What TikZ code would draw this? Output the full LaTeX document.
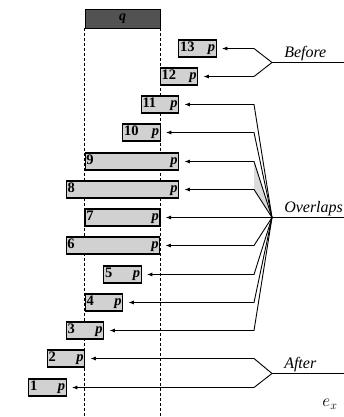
\documentclass[tikz,border=0pt]{standalone}
\usepackage{fontspec}
\setmainfont{Liberation Serif}
\usetikzlibrary{arrows.meta}
\begin{document}
\begin{tikzpicture}[x=1pt,y=-1pt,
  pbox/.style={draw, line width=1.3pt, fill=gray!36, minimum height=17pt, inner xsep=1.2pt, inner ysep=0pt,
    font=\bfseries\fontsize{14.5}{14.5}\selectfont, align=left},
  arr/.style={line width=0.9pt, -{Latex[length=5.5pt,width=4pt]}, shorten >=5pt},
  conn/.style={line width=0.9pt},
  lab/.style={font=\itshape\fontsize{16}{16}\selectfont, anchor=south west, inner sep=1pt},
  guide/.style={line width=0.9pt, dash pattern=on 3pt off 2pt}]
\useasboundingbox (0,0) rectangle (344,417);
% reference interval q
\node[draw, line width=0.9pt, fill=black!68, minimum width=75pt, minimum height=19pt, inner sep=0pt,
  font=\itshape\bfseries\fontsize{14}{14}\selectfont] (q) at (122.5,18.5) {q};
\coordinate (bot) at (0,417);
\draw[guide] (q.south west) -- (q.south west |- bot);
\draw[guide] (q.south east) -- (q.south east |- bot);
% boxes
\node[pbox, text width=35pt] (b13) at (197.5,48.5)    {13\hfill\textit{p}};
\node[pbox, text width=35pt] (b12) at (179,76.5) {12\hfill\textit{p}};
\node[pbox, text width=35pt] (b11) at (160,104.5)   {11\hfill\textit{p}};
\node[pbox, text width=35pt] (b10) at (141.5,132.5) {10\hfill\textit{p}};
\node[pbox, text width=91.25pt] (b9) at (132,161.5)   {9\hfill\textit{p}};
\node[pbox, text width=110pt] (b8) at (122.5,189.5) {8\hfill\textit{p}};
\node[pbox, text width=72.5pt] (b7) at (122.5,217.5)    {7\hfill\textit{p}};
\node[pbox, text width=91.25pt] (b6) at (113,245.5) {6\hfill\textit{p}};
\node[pbox, text width=35pt] (b5) at (122.5,274.5)    {5\hfill\textit{p}};
\node[pbox, text width=35pt] (b4) at (104,302.5) {4\hfill\textit{p}};
\node[pbox, text width=35pt] (b3) at (85,330.5)     {3\hfill\textit{p}};
\node[pbox, text width=35pt] (b2) at (66,358.5) {2\hfill\textit{p}};
\node[pbox, text width=35pt] (b1) at (47.5,387.5)     {1\hfill\textit{p}};
% hubs
\coordinate (kx) at (254,0);
\coordinate (hubB) at (272,62.5);
\coordinate (hubO) at (272,217.5);
\coordinate (hubA) at (272,373.5);
\coordinate (edge) at (344,0);
% shaded wedge
\fill[gray!28] (kx |- b9.east) -- (hubO) -- (kx |- b8.east) -- cycle;
% label lines
\draw[conn] (hubB) -- (edge |- hubB) node[lab, pos=0.15] (tB) {Before};
\draw[conn] (hubO) -- (edge |- hubO) node[lab, pos=0.15] (tO) {Overlaps};
\draw[conn] (hubA) -- (edge |- hubA) node[lab, pos=0.15] (tA) {After};
% connectors
\foreach \b in {b13,b12} {\draw[arr] (hubB) -- (kx |- \b.east) -- (\b.east);}
\foreach \b in {b11,b10,b9,b8,b6,b5,b4,b3} {\draw[arr] (hubO) -- (kx |- \b.east) -- (\b.east);}
\draw[arr] (hubO) -- (b7.east);
\foreach \b in {b2,b1} {\draw[arr] (hubA) -- (kx |- \b.east) -- (\b.east);}
\node[font=\fontsize{17}{17}\selectfont] (ex) at (330,404) {$e_x$};
\end{tikzpicture}
\end{document}
